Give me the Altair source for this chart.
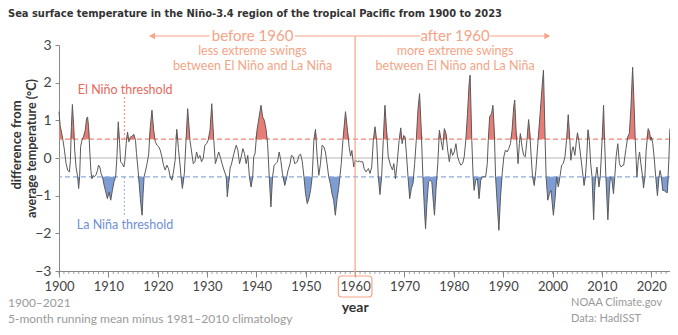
import altair as alt
import pandas as pd

# ---------------- data ----------------
YEARS = [
    1900.0, 1900.23, 1900.77, 1901.10, 1901.44, 1901.77, 1902.11, 1902.31, 1902.51, 1902.71,
    1902.98, 1903.18, 1903.45, 1903.78, 1903.98, 1904.18, 1904.38, 1904.65, 1904.99, 1905.32,
    1905.59, 1905.79, 1905.99, 1906.26, 1906.46, 1906.66, 1906.93, 1907.13, 1907.46, 1907.80,
    1908.00, 1908.27, 1908.53, 1908.80, 1909.14, 1909.47, 1909.81, 1910.14, 1910.48, 1910.81,
    1911.15, 1911.48, 1911.75, 1912.01, 1912.28, 1912.48, 1912.82, 1913.15, 1913.35, 1913.62,
    1913.89, 1914.16, 1914.49, 1914.83, 1915.16, 1915.50, 1915.70, 1916.03, 1916.30, 1916.57,
    1916.84, 1917.04, 1917.24, 1917.51, 1917.84, 1918.17, 1918.50, 1918.84, 1919.18, 1919.51,
    1919.85, 1920.18, 1920.51, 1920.85, 1921.18, 1921.52, 1921.85, 1922.19, 1922.52, 1922.86,
    1923.19, 1923.53, 1923.86, 1924.20, 1924.53, 1924.73, 1925.00, 1925.40, 1925.74, 1926.07,
    1926.54, 1926.87, 1927.21, 1927.54, 1927.88, 1928.21, 1928.55, 1928.88, 1929.22, 1929.55,
    1929.90, 1930.22, 1930.60, 1930.95, 1931.36, 1931.69, 1932.09, 1932.36, 1932.76, 1933.03,
    1933.43, 1933.90, 1934.10, 1934.37, 1934.70, 1934.90, 1935.44, 1935.91, 1936.24, 1936.58,
    1936.91, 1937.25, 1937.58, 1937.92, 1938.25, 1938.58, 1938.92, 1939.25, 1939.45, 1939.72,
    1940.12, 1940.39, 1940.93, 1941.26, 1941.60, 1941.93, 1942.27, 1942.60, 1942.94, 1943.27,
    1943.60, 1943.94, 1944.27, 1944.61, 1944.94, 1945.28, 1945.75, 1946.15, 1946.42, 1946.82,
    1947.09, 1947.49, 1947.75, 1948.29, 1948.62, 1948.96, 1949.30, 1949.63, 1949.96, 1950.30,
    1950.63, 1950.97, 1951.30, 1951.64, 1951.97, 1952.31, 1952.64, 1952.98, 1953.31, 1953.65,
    1953.98, 1954.31, 1954.65, 1954.98, 1955.32, 1955.65, 1955.99, 1956.32, 1956.66, 1956.99,
    1957.19, 1957.53, 1958.05, 1958.45, 1958.80, 1959.10, 1959.34, 1959.72, 1960.01, 1960.48,
    1960.88, 1961.15, 1961.55, 1961.82, 1962.22, 1962.69, 1963.02, 1963.36, 1963.69, 1964.03,
    1964.36, 1964.70, 1965.03, 1965.37, 1965.70, 1966.04, 1966.37, 1966.71, 1967.17, 1967.57,
    1967.84, 1968.18, 1968.51, 1968.91, 1969.25, 1969.52, 1969.85, 1970.12, 1970.39, 1970.72,
    1971.06, 1971.39, 1971.72, 1972.06, 1972.39, 1972.73, 1973.06, 1973.40, 1973.73, 1974.07,
    1974.27, 1974.54, 1974.87, 1975.21, 1975.54, 1975.88, 1976.08, 1976.41, 1976.75, 1977.08,
    1977.41, 1977.75, 1978.08, 1978.42, 1978.75, 1979.09, 1979.42, 1979.76, 1980.09, 1980.43,
    1980.76, 1981.10, 1981.43, 1981.77, 1982.10, 1982.43, 1982.77, 1983.10, 1983.30, 1983.64,
    1983.91, 1984.11, 1984.44, 1984.78, 1985.11, 1985.45, 1985.78, 1986.11, 1986.45, 1986.78,
    1986.98, 1987.25, 1987.65, 1987.92, 1988.19, 1988.46, 1988.79, 1989.13, 1989.46, 1989.80,
    1990.13, 1990.46, 1990.80, 1991.13, 1991.47, 1991.80, 1992.14, 1992.34, 1992.61, 1993.01,
    1993.28, 1993.48, 1993.81, 1994.15, 1994.48, 1994.81, 1995.15, 1995.35, 1995.68, 1995.95,
    1996.29, 1996.62, 1997.02, 1997.49, 1997.83, 1998.16, 1998.50, 1998.70, 1999.03, 1999.37,
    1999.70, 2000.17, 2000.50, 2000.83, 2001.17, 2001.50, 2001.84, 2002.17, 2002.51, 2002.84,
    2003.18, 2003.51, 2003.71, 2003.98, 2004.18, 2004.52, 2004.85, 2005.05, 2005.32, 2005.72,
    2006.19, 2006.39, 2006.66, 2006.93, 2007.19, 2007.46, 2007.73, 2008.00, 2008.33, 2008.53,
    2008.73, 2009.00, 2009.20, 2009.40, 2009.67, 2009.87, 2010.07, 2010.34, 2010.54, 2010.81,
    2011.21, 2011.54, 2011.74, 2012.01, 2012.35, 2012.61, 2012.88, 2013.22, 2013.55, 2013.89,
    2014.22, 2014.42, 2014.69, 2014.89, 2015.23, 2015.56, 2015.89, 2016.23, 2016.56, 2016.76,
    2017.10, 2017.37, 2017.63, 2017.90, 2018.24, 2018.44, 2018.71, 2018.97, 2019.38, 2019.64,
    2019.91, 2020.04, 2020.31, 2020.58, 2020.91, 2021.25, 2021.58, 2021.78, 2022.05, 2022.32,
    2022.59, 2022.92, 2023.26, 2023.59, 2023.79,
]
ANOM = [
    1.23, 0.87, 0.50, 0.21, -0.15, -0.33, -0.37, -0.06, 0.83, 1.42,
    0.83, 0.21, -0.24, -0.50, -0.81, -0.50, 0.30, 0.47, 0.58, 0.74,
    1.05, 1.09, 0.83, 0.12, -0.33, -0.55, -0.46, -0.50, -0.46, -0.33,
    -0.19, -0.24, -0.41, -0.50, -0.72, -0.90, -1.08, -0.90, -1.12, -0.86,
    -0.63, -0.50, 0.06, 0.96, 0.39, -0.10, -0.15, -0.24, -0.06, 0.39,
    0.69, 0.43, 0.56, 0.58, 0.63, 0.47, 0.12, -0.33, -0.77, -1.21,
    -1.52, -0.94, -0.50, -0.35, -0.15, 0.10, 0.83, 1.27, 0.74, 0.43,
    0.34, 0.30, 0.21, 0.03, -0.19, -0.32, -0.19, -0.28, -0.50, -0.59,
    -0.37, -0.06, 0.76, 0.25, -0.19, -0.50, -0.81, -0.41, 0.47, 1.31,
    0.47, 0.16, -0.15, -0.10, 0.16, -0.01, 0.07, -0.10, -0.01, 0.34,
    0.38, 0.47, 0.74, 1.44, 0.47, -0.15, 0.03, 0.16, -0.01, -0.15,
    -0.32, -0.50, -1.03, -0.68, -0.24, -0.19, 0.12, 0.34, 0.21, -0.15,
    0.03, 0.25, 0.12, -0.15, 0.07, -0.50, -0.77, -0.50, 0.03, 0.12,
    0.74, 0.96, 1.40, 1.09, 1.00, 0.78, 0.38, -0.50, -1.30, -0.50,
    -0.19, -0.15, -0.10, 0.16, -0.06, -0.42, -0.73, -0.50, -0.32, -0.15,
    0.07, 0.03, -0.15, -0.10, 0.07, 0.10, -0.10, -0.50, -0.95, -1.21,
    -1.08, -0.86, -0.50, 0.47, 0.76, 0.03, -0.46, -0.15, 0.34, 0.30,
    0.16, -0.15, -0.50, -0.68, -0.95, -1.12, -1.52, -1.10, -0.81, -0.40,
    -0.15, 0.47, 1.23, 0.74, 0.28, 0.05, 0.20, -0.24, -0.06, -0.10,
    -0.08, -0.10, -0.10, -0.28, -0.37, -0.28, -0.41, -0.24, 0.47, 0.83,
    0.47, -0.50, -0.97, -0.50, 0.47, 1.40, 0.74, 0.03, -0.19, -0.32,
    -0.15, -0.55, -0.15, 0.47, 0.80, 0.38, 0.60, 0.56, 0.12, -0.50,
    -1.08, -0.81, -0.68, -0.15, 0.47, 1.27, 1.71, 0.74, -0.50, -1.43,
    -1.88, -1.21, -0.63, -0.59, -0.63, -1.21, -1.52, -0.77, -0.15, 0.74,
    0.47, 0.21, 0.78, 0.65, 0.21, -0.10, 0.25, 0.07, 0.16, 0.38,
    0.03, -0.10, -0.19, -0.15, 0.03, 0.47, 1.18, 1.98, 2.20, 0.47,
    -0.50, -0.86, -0.59, -0.55, -1.08, -0.59, -0.50, -0.50, -0.50, -0.15,
    0.47, 1.09, 1.18, 1.40, 0.74, -0.50, -1.21, -1.92, -1.03, -0.41,
    0.03, 0.21, 0.16, 0.25, 0.38, 0.74, 1.36, 1.54, 0.74, -0.15,
    0.38, 0.65, 0.30, 0.07, 0.03, 0.47, 1.02, 0.74, 0.03, -0.50,
    -0.73, -0.33, 0.38, 1.18, 1.80, 2.33, 0.47, -0.50, -1.12, -0.95,
    -0.86, -1.52, -1.10, -0.50, -0.77, -0.50, -0.19, -0.15, 0.03, 0.47,
    1.15, 0.47, -0.06, 0.21, 0.30, 0.07, 0.47, 0.67, 0.47, 0.03,
    -0.50, -0.73, -0.50, 0.03, 0.75, 0.47, -0.15, -0.50, -1.64, -0.86,
    -0.50, -0.24, -0.50, -0.77, -0.50, 0.03, 0.56, 1.40, 0.47, -0.50,
    -1.64, -0.77, -0.50, -0.55, -0.95, -0.50, 0.03, 0.38, -0.15, -0.24,
    -0.19, -0.19, 0.07, 0.25, 0.56, 0.65, 1.36, 2.41, 1.27, 0.47,
    -0.50, -0.06, 0.16, -0.15, -0.50, -0.80, -0.50, 0.21, 0.78, 0.69,
    0.47, 0.56, 0.38, 0.03, -0.50, -1.00, -0.50, -0.33, -0.50, -0.86,
    -0.86, -0.90, -0.92, 0.03, 0.78,
]

DECADES = list(range(1900, 2021, 10))
MINOR_TICKS = list(range(1900, 2024))
Y_TICKS = [-3, -2, -1, 0, 1, 2, 3]

TITLE = "Sea surface temperature in the Niño-3.4 region of the tropical Pacific from 1900 to 2023"
Y_TITLE_1 = "difference from"
Y_TITLE_2 = "average temperature (°C)"
X_TITLE = "year"
BEFORE = ["before 1960", "less extreme swings", "between El Niño and La Niña"]
AFTER = ["after 1960", "more extreme swings", "between El Niño and La Niña"]
EL_NINO_LABEL = "El Niño threshold"
LA_NINA_LABEL = "La Niña threshold"
NOTE_LEFT = ["1900–2021", "5-month running mean minus 1981–2010 climatology"]
NOTE_RIGHT = ["NOAA Climate.gov", "Data: HadISST"]

# ---------------- style / layout ----------------
FONT = "Lato"
TFONT = "Liberation Sans Narrow, DejaVu Sans Condensed, sans-serif"
RED_FILL = "#e87c77"
BLUE_FILL = "#7e9dd5"
RED_DASH = "#f2857a"
BLUE_DASH = "#8eabe0"
RED_TXT = "#e8685c"
BLUE_TXT = "#6e8fd4"
SALMON = "#f5a486"
LINE = "#5a5a5a"
NOTE = "#9a9a9a"

W, H = 611, 226
X_MAX = 2023.8
PPU = H / 6.0
REF_PPY = 4.984  # reference picture: pixels per year


def yr(page_x):
    return 1900 + (page_x - 59) / REF_PPY


def vv(page_y):
    return 3 - (page_y - 45) / PPU


xs = alt.Scale(domain=[1900, X_MAX], nice=False, zero=False)
ys = alt.Scale(domain=[-3, 3], nice=False, zero=False)

xaxis = alt.Axis(values=DECADES, format="d", title="", labelFont=FONT, labelFontSize=13,
                 labelColor="#444", labelPadding=3, labelFlush=False, labelOverlap=False,
                 tickSize=6, tickColor="#888", domainColor="#888", grid=False)
yaxis = alt.Axis(values=Y_TICKS, title="", labelFont=FONT, labelFontSize=14,
                 labelColor="#444", labelPadding=4, tickSize=4, tickColor="#888",
                 domainColor="#888", grid=False)


def X(f="year"):
    return alt.X(f"{f}:Q", scale=xs, axis=xaxis)


def Y(f="v"):
    return alt.Y(f"{f}:Q", scale=ys, axis=yaxis)


df = pd.DataFrame({"year": YEARS, "v": ANOM})

red = alt.Chart(df).transform_calculate(top="max(datum.v, 0.5)").mark_area(
    color=RED_FILL, opacity=1).encode(x=X(), y=Y("top"), y2=alt.datum(0.5))
blue = alt.Chart(df).transform_calculate(bot="min(datum.v, -0.5)").mark_area(
    color=BLUE_FILL, opacity=1).encode(x=X(), y=Y("bot"), y2=alt.datum(-0.5))

zero = alt.Chart(pd.DataFrame({"v": [0]})).mark_rule(color="#b8b8b8", strokeWidth=1).encode(y=Y())
thr_r = alt.Chart(pd.DataFrame({"v": [0.5]})).mark_rule(
    strokeDash=[5, 3], strokeWidth=1.3, color=RED_DASH).encode(y=Y())
thr_b = alt.Chart(pd.DataFrame({"v": [-0.5]})).mark_rule(
    strokeDash=[5, 3], strokeWidth=1.3, color=BLUE_DASH).encode(y=Y())


def drule(x1, x2, v1, v2, **mk):
    d = pd.DataFrame({"year": [x1], "x2": [x2], "v": [v1], "v2": [v2]})
    return alt.Chart(d).mark_rule(**mk).encode(x=X(), x2="x2:Q", y=Y(), y2="v2:Q")


vdot_r = drule(yr(125), yr(125), vv(97), 0.5, strokeDash=[2, 2], strokeWidth=1, color=RED_DASH)
vdot_b = drule(yr(125), yr(125), -0.5, vv(217), strokeDash=[2, 2], strokeWidth=1, color=BLUE_DASH)

line = alt.Chart(df).mark_line(color=LINE, strokeWidth=1).encode(x=X(), y=Y())

minor = alt.Chart(pd.DataFrame({"year": MINOR_TICKS})).mark_rule(color="#888", strokeWidth=0.8).encode(
    x=X(), y=alt.value(H), y2=alt.value(H + 3))


def dtext(s, year, v, **mk):
    return alt.Chart(pd.DataFrame({"year": [year], "v": [v]})).mark_text(text=s, font=FONT, **mk).encode(
        x=X(), y=Y())


def ptext(s, x, y, **mk):
    return alt.Chart(pd.DataFrame({"a": [0]})).mark_text(text=s, **mk).encode(
        x=alt.value(x), y=alt.value(y))


labels = [
    dtext(EL_NINO_LABEL, yr(78), vv(90), align="left", baseline="middle", fontSize=12.5, color=RED_TXT),
    dtext(LA_NINA_LABEL, yr(77), vv(225), align="left", baseline="middle", fontSize=12.5, color=BLUE_TXT),
]

ARR_Y = vv(36)
ann = [
    drule(1960, 1960, ARR_Y, vv(276), color=SALMON, strokeWidth=1.2),
    drule(yr(151), yr(211), ARR_Y, ARR_Y, color=SALMON, strokeWidth=1.2),
    drule(yr(297), 1960, ARR_Y, ARR_Y, color=SALMON, strokeWidth=1.2),
    drule(1960, yr(424), ARR_Y, ARR_Y, color=SALMON, strokeWidth=1.2),
    drule(yr(494), yr(554), ARR_Y, ARR_Y, color=SALMON, strokeWidth=1.2),
    alt.Chart(pd.DataFrame({"year": [yr(153)], "v": [ARR_Y]})).mark_point(
        shape="triangle-left", filled=True, size=45, color=SALMON, opacity=1).encode(x=X(), y=Y()),
    alt.Chart(pd.DataFrame({"year": [yr(552)], "v": [ARR_Y]})).mark_point(
        shape="triangle-right", filled=True, size=45, color=SALMON, opacity=1).encode(x=X(), y=Y()),
    dtext(BEFORE[0], yr(254.5), ARR_Y, align="center", baseline="middle", fontSize=15, color=SALMON),
    dtext(BEFORE[1], yr(254.5), vv(51), align="center", baseline="middle", fontSize=12.5, color=SALMON),
    dtext(BEFORE[2], yr(254.5), vv(66), align="center", baseline="middle", fontSize=12.5, color=SALMON),
    dtext(AFTER[0], yr(459), ARR_Y, align="center", baseline="middle", fontSize=15, color=SALMON),
    dtext(AFTER[1], yr(459), vv(51), align="center", baseline="middle", fontSize=12.5, color=SALMON),
    dtext(AFTER[2], yr(459), vv(66), align="center", baseline="middle", fontSize=12.5, color=SALMON),
    alt.Chart(pd.DataFrame({"year": [1956.6], "x2": [1963.4], "v": [vv(276)], "v2": [vv(297)]})).mark_rect(
        fillOpacity=0, stroke=SALMON, strokeWidth=1.2, cornerRadius=3).encode(
        x=X(), x2="x2:Q", y=Y(), y2="v2:Q"),
]

texts = [
    ptext(TITLE, -51, -31, align="left", baseline="middle", font=TFONT, fontSize=11,
          fontWeight="bold", color="#333"),
    ptext(Y_TITLE_1, -42.5, 100, align="center", baseline="middle", angle=270, font=FONT,
          fontSize=13, fontWeight="bold", color="#333"),
    ptext(Y_TITLE_2, -27.5, 103.5, align="center", baseline="middle", angle=270, font=FONT,
          fontSize=12.5, fontWeight="bold", color="#333"),
    dtext(X_TITLE, 1960, vv(308), align="center", baseline="middle", fontSize=14,
          fontWeight="bold", color="#333"),
    ptext(NOTE_LEFT[0], -51, 258, align="left", baseline="middle", font=FONT, fontSize=12, color=NOTE),
    ptext(NOTE_LEFT[1], -51, 274, align="left", baseline="middle", font=FONT, fontSize=12, color=NOTE),
    ptext(NOTE_RIGHT[0], 512, 258, align="left", baseline="middle", font=FONT, fontSize=11, color=NOTE),
    ptext(NOTE_RIGHT[1], 512, 274, align="left", baseline="middle", font=FONT, fontSize=11, color=NOTE),
]

chart = alt.layer(red, blue, zero, thr_r, thr_b, vdot_r, vdot_b, line, minor,
                  *labels, *ann, *texts).properties(
    width=W, height=H,
    autosize=alt.AutoSizeParams(type="none"),
    padding={"left": 51, "top": 37, "right": 0, "bottom": 56},
).configure_view(stroke="transparent")

chart.save("out.html", embed_options={"renderer": "svg", "actions": False})
